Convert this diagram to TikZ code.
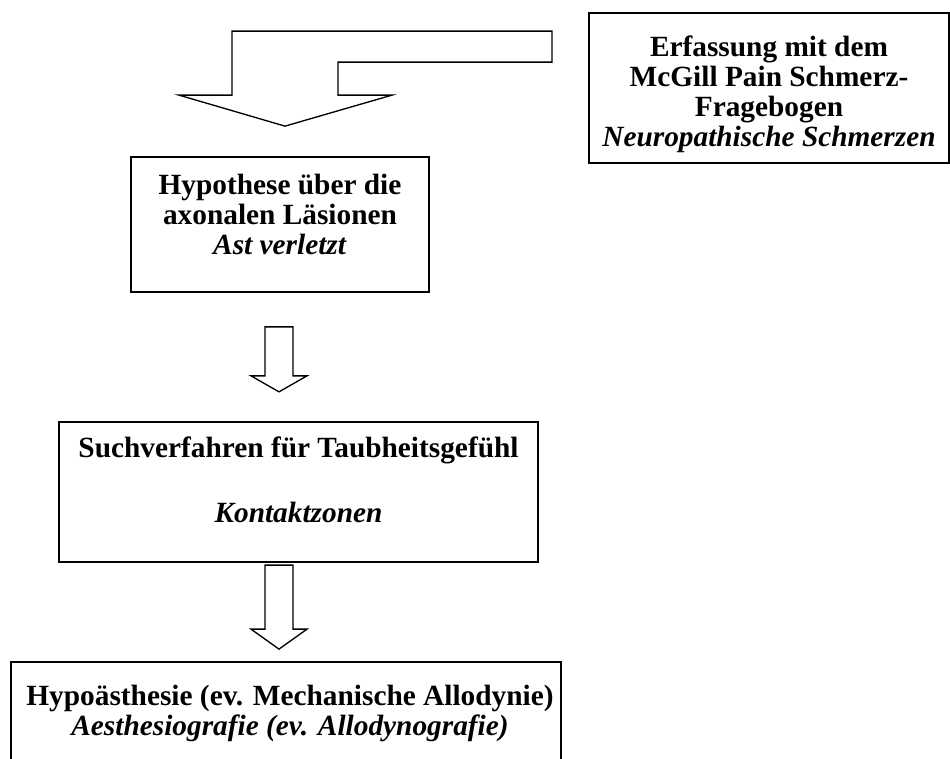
\documentclass[tikz,border=0pt]{standalone}
\usepackage{fontspec}
\setmainfont{Liberation Serif}
\usetikzlibrary{positioning,calc}

\begin{document}
\begin{tikzpicture}[x=0.75pt,y=-0.75pt,
        box/.style={draw,line width=1.3pt,inner sep=0pt},
        boxtext/.style={align=center,inner sep=0pt,font=\fontsize{22}{22.5}\selectfont\bfseries},
        bigarrow/.style={draw,line width=1pt,line join=miter}]
    \useasboundingbox (0,0) rectangle (950,759);
    \clip (0,0) rectangle (950,759);

    % frames
    \node(mcgill)[box,minimum width=270pt,minimum height=112.5pt] at (769,88) {};
    \node(hyp)[box,minimum width=223.5pt,minimum height=101.25pt] at (280,224.5) {};
    \node(such)[box,minimum width=359.25pt,minimum height=105pt] at (298.5,492) {};
    \node(hypo)[box,minimum width=412.5pt,minimum height=103.5pt] at (286,731) {}; % runs off the page

    % texts
    \node(tmcgill)[boxtext,below=17.7pt of mcgill.north]
        {Erfassung mit dem\\McGill Pain Schmerz-\\Fragebogen\\\textit{Neuropathische Schmerzen}};
    \node(thyp)[boxtext,below=13.5pt of hyp.north]
        {Hypothese über die\\axonalen Läsionen\\\textit{Ast verletzt}};
    \node(tsuch)[boxtext,below=11.25pt of such.north]
        {Suchverfahren für Taubheitsgefühl\\[26.25pt]\textit{Kontaktzonen}};
    \node(thypo)[boxtext,below=18pt of hypo.north,xshift=3pt]
        {Hypoästhesie (ev. Mechanische Allodynie)\\\textit{Aesthesiografie (ev. Allodynografie)}};

    % block arrows
    \draw[bigarrow] ($(hyp.north)+(5,-30)$) -- ++(107,-31) -- ++(-54,0) -- ++(0,-33)
        -- ++(214,0) -- ++(0,-31) -- ++(-320,0) -- ++(0,64) -- ++(-53,0) -- cycle;
    \draw[bigarrow] ($(hyp.south)+(-15,34)$) -- ++(28,0) -- ++(0,49) -- ++(14,0)
        -- ++(-28,16) -- ++(-28,-16) -- ++(14,0) -- cycle;
    \draw[bigarrow] ($(hypo.north)+(-21,-96)$) -- ++(28,0) -- ++(0,64) -- ++(14,0)
        -- ++(-28,20) -- ++(-28,-20) -- ++(14,0) -- cycle;
\end{tikzpicture}
\end{document}
